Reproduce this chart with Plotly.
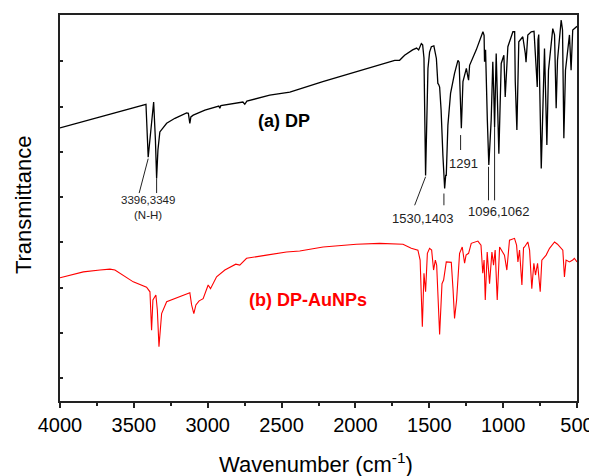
import plotly.graph_objects as go

# ---- DP (a) spectrum: wavenumber (cm-1) and transmittance (arb. units)
dp_wn = [4000, 3730, 3437, 3418, 3403, 3388, 3366, 3354, 3346, 3337, 3324, 3278, 3222, 3143, 3131, 3121, 3114,
         3098, 3019, 2925, 2918, 2911, 2762, 2749, 2735, 2580, 2444, 2221, 1993, 1768, 1734, 1701, 1667, 1613,
         1586, 1572, 1554, 1545, 1536, 1525, 1518, 1509, 1498, 1486, 1469, 1452, 1442, 1437, 1430, 1420, 1408,
         1396, 1389, 1385, 1374, 1356, 1329, 1306, 1298, 1291, 1283, 1272, 1249, 1239, 1234, 1227, 1182, 1137,
         1129, 1126, 1119, 1107, 1097, 1081, 1070, 1064, 1058, 1047, 1029, 1013, 995, 986, 968, 934, 922, 918,
         907, 894, 867, 850, 845, 833, 810, 791, 769, 764, 759, 742, 733, 720, 704, 693, 664, 652, 641, 632,
         607, 598, 589, 578, 551, 540, 529, 506, 500]
dp_t = [65.3, 67.7, 70.3, 70.5, 58.8, 63.7, 71.0, 62.6, 54.2, 60.4, 64.4, 66.3, 67.4, 68.6, 68.5, 66.3, 67.7,
        68.1, 69.2, 70.1, 69.6, 70.2, 71.0, 70.5, 71.2, 72.5, 73.2, 75.5, 77.7, 79.9, 80.2, 80.2, 81.3, 82.5,
        82.9, 82.5, 83.9, 83.6, 80.7, 54.8, 67.0, 78.4, 82.0, 83.2, 83.4, 80.6, 75.1, 74.9, 74.3, 69.2, 59.3,
        51.9, 54.8, 54.8, 65.9, 72.9, 77.3, 80.2, 79.8, 72.5, 65.2, 75.5, 78.4, 76.6, 75.8, 79.1, 82.5, 86.5,
        85.7, 79.9, 82.5, 67.0, 57.1, 67.0, 79.9, 73.7, 65.5, 81.7, 59.6, 79.5, 81.3, 72.1, 83.2, 86.5, 86.5,
        75.5, 64.8, 84.3, 85.4, 81.7, 79.8, 85.8, 86.5, 86.6, 74.3, 84.7, 85.9, 56.3, 67.0, 82.8, 61.5, 78.0,
        87.2, 85.8, 69.6, 80.2, 89.1, 86.9, 63.0, 78.0, 85.8, 78.0, 86.9, 87.6, 87.7]

# ---- DP-AuNPs (b) spectrum
au_wn = [4000, 3842, 3729, 3662, 3628, 3504, 3414, 3391, 3380, 3371, 3351, 3341, 3330, 3312, 3278, 3188, 3121,
         3109, 3094, 3080, 3058, 3031, 2997, 2981, 2940, 2884, 2828, 2810, 2783, 2737, 2602, 2467, 2377, 2219,
         1993, 1836, 1678, 1622, 1577, 1562, 1547, 1536, 1525, 1513, 1498, 1484, 1471, 1459, 1450, 1430, 1414,
         1403, 1385, 1351, 1339, 1329, 1315, 1295, 1277, 1261, 1251, 1234, 1216, 1171, 1150, 1138, 1129, 1121,
         1108, 1092, 1076, 1065, 1054, 1040, 1024, 1009, 991, 975, 957, 923, 909, 900, 889, 873, 862, 855, 833,
         821, 806, 792, 781, 767, 749, 738, 709, 686, 652, 632, 596, 585, 574, 551, 529, 518, 500]
au_t = [32.2, 33.5, 33.9, 34.1, 33.9, 31.3, 30.1, 29.1, 20.6, 27.3, 28.4, 25.1, 17.0, 24.3, 26.9, 28.1, 28.9,
        26.2, 24.3, 26.2, 27.1, 27.6, 30.6, 29.8, 32.4, 33.9, 35.0, 35.2, 35.0, 36.5, 37.2, 37.9, 38.1, 39.0,
        39.6, 39.8, 39.6, 38.7, 38.3, 36.1, 21.4, 33.2, 29.1, 37.6, 38.7, 38.3, 33.9, 36.1, 35.0, 19.7, 30.9,
        31.7, 35.7, 35.6, 29.5, 23.2, 27.3, 37.6, 39.0, 35.4, 37.2, 37.6, 39.8, 40.3, 39.4, 33.2, 36.1, 27.3,
        37.9, 30.9, 37.9, 35.0, 38.3, 27.3, 39.0, 38.3, 37.2, 33.9, 40.5, 40.9, 39.4, 35.7, 38.3, 30.6, 38.8,
        39.0, 40.1, 38.3, 29.8, 35.4, 32.8, 35.4, 29.1, 36.1, 37.2, 38.7, 40.1, 39.6, 38.3, 32.4, 36.1, 35.7,
        36.1, 36.5, 35.7]

x_ticks = [4000, 3500, 3000, 2500, 2000, 1500, 1000, 500]

FONT = "Arial, Liberation Sans, sans-serif"
INK = "#222222"

fig = go.Figure()
fig.add_trace(go.Scatter(x=dp_wn, y=dp_t, mode="lines", line=dict(color="black", width=1.3),
                         name="DP", showlegend=False))
fig.add_trace(go.Scatter(x=au_wn, y=au_t, mode="lines", line=dict(color="#ff0000", width=1.1),
                         name="DP-AuNPs", showlegend=False))

# peak marker lines
peak_lines = [
    (3403, 58.5, 3464, 50.9),
    (3346, 54.2, 3346, 50.9),
    (1525, 54.5, 1599, 48.2),
    (1401, 50.8, 1401, 48.2),
    (1288, 63.7, 1288, 60.4),
    (1099, 56.7, 1099, 49.3),
    (1058, 65.5, 1058, 49.3),
]
for x0, y0, x1, y1 in peak_lines:
    fig.add_shape(type="line", xref="x", yref="y", x0=x0, y0=y0, x1=x1, y1=y1,
                  line=dict(color=INK, width=1))

labels = [
    ("3396,3349", 3405, 49.3, 11.5),
    ("(N-H)", 3405, 46.0, 11.5),
    ("1530,1403", 1547, 45.3, 13),
    ("1291", 1268, 57.4, 13),
    ("1096,1062", 1034, 46.8, 13),
]
for txt, x, y, s in labels:
    fig.add_annotation(x=x, y=y, xref="x", yref="y", text=txt, showarrow=False,
                       font=dict(family=FONT, size=s, color=INK), xanchor="center", yanchor="middle")

fig.add_annotation(x=2485, y=66.8, xref="x", yref="y", text="<b>(a) DP</b>", showarrow=False,
                   font=dict(family=FONT, size=18, color="black"))
fig.add_annotation(x=2323, y=27.2, xref="x", yref="y", text="<b>(b) DP-AuNPs</b>", showarrow=False,
                   font=dict(family=FONT, size=18, color="#ff0000"))

# axis titles
fig.add_annotation(x=-0.0716, y=0.51, xref="paper", yref="paper", text="Transmittance", textangle=-90,
                   showarrow=False, font=dict(family=FONT, size=22, color="black"),
                   xanchor="center", yanchor="middle")
fig.add_annotation(x=0.495, y=-0.161, xref="paper", yref="paper", text="Wavenumber (cm<sup>-1</sup>)",
                   showarrow=False, font=dict(family=FONT, size=22, color="black"),
                   xanchor="center", yanchor="middle")

fig.update_xaxes(range=[4000, 500], tickmode="array", tickvals=x_ticks, automargin=False,
                 ticks="outside", ticklen=5, tickwidth=1.5, tickcolor=INK,
                 minor=dict(ticks="outside", ticklen=3, tickwidth=1.5, tickcolor=INK, dtick=250),
                 showgrid=False, zeroline=False, showline=True, linecolor=INK, linewidth=2, mirror=True,
                 tickfont=dict(family=FONT, size=20, color="black"))
fig.update_yaxes(range=[5, 90.2], tick0=0, dtick=10, ticks="inside", ticklen=3, tickwidth=1.5, tickcolor=INK,
                 showticklabels=False, showgrid=False, zeroline=False, showline=True, linecolor=INK,
                 linewidth=2, mirror=True, automargin=False)

# page body has an 8px default margin; size the figure so the plot area lands where the reference has it
fig.update_layout(width=589, height=468, margin=dict(l=52, r=20, t=7, b=75, autoexpand=False),
                  paper_bgcolor="white", plot_bgcolor="white")

fig.write_html("out.html")
